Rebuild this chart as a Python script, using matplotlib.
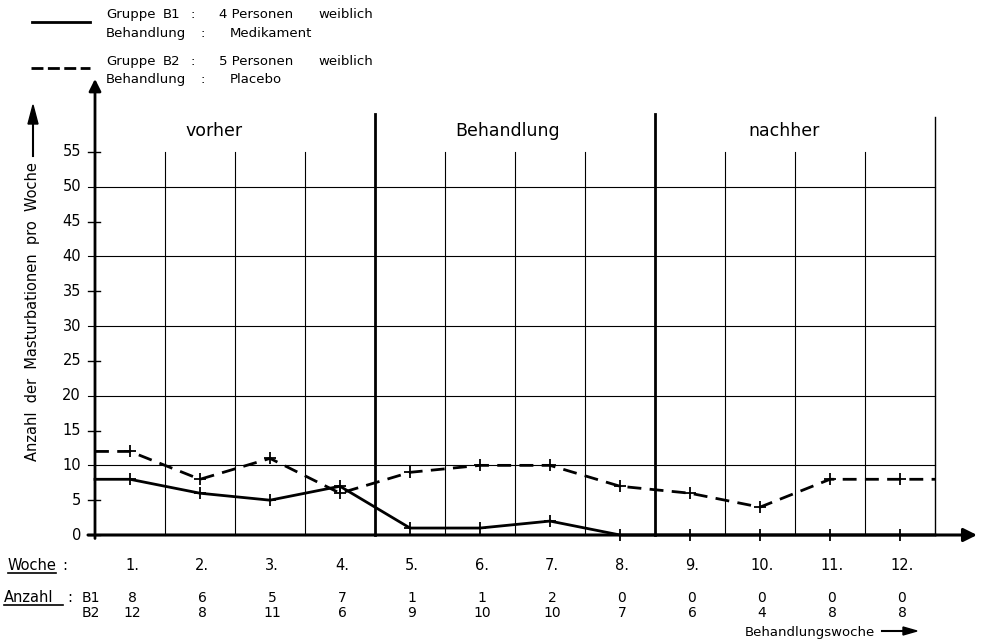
import numpy as np
import matplotlib.pyplot as plt
from matplotlib.lines import Line2D

weeks = ['1.', '2.', '3.', '4.', '5.', '6.', '7.', '8.', '9.', '10.', '11.', '12.']
b1 = [8, 6, 5, 7, 1, 1, 2, 0, 0, 0, 0, 0]
b2 = [12, 8, 11, 6, 9, 10, 10, 7, 6, 4, 8, 8]
phases = ['vorher', 'Behandlung', 'nachher']
yticks = [0, 5, 10, 15, 20, 25, 30, 35, 40, 45, 50, 55]

W, H = 983, 641
fig = plt.figure(figsize=(W / 100, H / 100), dpi=100)
plt.rcParams['font.family'] = ['DejaVu Sans']


def fx(x):
    return x / W


def fy(y):
    return 1 - y / H


def txt(x, y, s, size=10, ha='left'):
    # y is the vertical middle of the capitals, in pixels from the top
    fig.text(fx(x), fy(y + 0.36 * size * 1.39), s, ha=ha, va='baseline', fontsize=size)


# axes: x 0..12 -> px 95..935, y 0..55 -> px 535..152
ax = fig.add_axes([fx(95), fy(535), (935 - 95) / W, (535 - 152) / H])
ax.set_xlim(0, 12)
ax.set_ylim(0, 55)
ax.axis('off')

k = 'black'
n = len(weeks)
xc = np.arange(n) + 0.5

# grid
for g in range(10, 55, 10):
    ax.plot([-0.1, 12], [g, g], color=k, lw=0.8, clip_on=False)
for v in range(1, 12):
    if v in (4, 8):
        ax.plot([v, v], [0, 60.5], color=k, lw=2.0, clip_on=False)
    else:
        ax.plot([v, v], [0, 55], color=k, lw=0.8, clip_on=False)
ax.plot([12, 12], [0, 60], color=k, lw=1.0, clip_on=False)

# y axis with arrow and ticks
ax.annotate('', xy=(0, 65.5), xytext=(0, -0.5), annotation_clip=False,
            arrowprops=dict(arrowstyle='-|>', color=k, lw=2.0,
                            mutation_scale=18, shrinkA=0, shrinkB=0))
for t in yticks:
    if t % 10 != 0 or t == 0:
        ax.plot([-0.1, 0.07], [t, t], color=k, lw=1.0, clip_on=False)
    ax.text(-0.2, t, str(t), ha='right', va='center', fontsize=10.5)

# x axis with arrow
ax.annotate('', xy=(12.6, 0), xytext=(-0.1, 0), annotation_clip=False,
            arrowprops=dict(arrowstyle='-|>', color=k, lw=2.2,
                            mutation_scale=20, shrinkA=0, shrinkB=0))

# series: start at the y axis with week 1 value, end at cell edge
x1 = np.concatenate([[0], xc, [12]])
y1 = np.concatenate([[b1[0]], b1, [b1[-1]]])
y2 = np.concatenate([[b2[0]], b2, [b2[-1]]])
ax.plot(x1, y1, color=k, lw=2.0, clip_on=False, solid_joinstyle='round')
ax.plot(x1, y2, color=k, lw=2.0, dashes=(5, 3), clip_on=False)
ax.plot(xc, b1, ls='none', marker='+', ms=9, mew=1.3, color=k, clip_on=False)
ax.plot(xc, b2, ls='none', marker='+', ms=9, mew=1.3, color=k, clip_on=False)

# phase labels
for p, xp in zip(phases, [1.7, 5.9, 9.85]):
    ax.text(xp, 58, p, ha='center', va='center', fontsize=12.5)

# y label with arrow
fig.text(fx(33), fy(312), 'Anzahl  der  Masturbationen  pro  Woche',
         rotation=90, ha='center', va='center', fontsize=10.5)
fig.add_artist(Line2D([fx(33), fx(33)], [fy(156), fy(122)], color=k, lw=1.5))
fig.patches.append(plt.Polygon([[fx(28), fy(124)], [fx(38), fy(124)], [fx(33), fy(105)]],
                               closed=True, color=k, transform=fig.transFigure))

# bottom table
txt(8, 565, 'Woche', 10.5)
txt(62, 565, ':', 10.5)
fig.add_artist(Line2D([fx(8), fx(56)], [fy(573), fy(573)], color=k, lw=1.2))
txt(4, 597, 'Anzahl', 10.5)
txt(67, 597, ':', 10.5)
fig.add_artist(Line2D([fx(4), fx(63)], [fy(605), fy(605)], color=k, lw=1.2))
txt(82, 597, 'B1')
txt(82, 612, 'B2')
for i in range(n):
    xp = 95 + 70 * xc[i] + 2
    txt(xp, 565, weeks[i], 10.5, 'center')
    txt(xp, 597, str(b1[i]), 10, 'center')
    txt(xp, 612, str(b2[i]), 10, 'center')
txt(875, 631, 'Behandlungswoche', 9.5, 'right')
fig.add_artist(Line2D([fx(882), fx(905)], [fy(631), fy(631)], color=k, lw=1.5))
fig.patches.append(plt.Polygon([[fx(903), fy(627)], [fx(903), fy(635)], [fx(917), fy(631)]],
                               closed=True, color=k, transform=fig.transFigure))

# legend
fig.add_artist(Line2D([fx(32), fx(90)], [fy(22), fy(22)], color=k, lw=2.0))
fig.add_artist(Line2D([fx(31), fx(90)], [fy(68), fy(68)], color=k, lw=2.0, dashes=(4.3, 1.6)))
rows = [(13, 'Gruppe', 'B1', '4 Personen', 'weiblich'),
        (32, 'Behandlung', '', 'Medikament', ''),
        (60, 'Gruppe', 'B2', '5 Personen', 'weiblich'),
        (78, 'Behandlung', '', 'Placebo', '')]
for yy, a, b, c, d in rows:
    txt(106, yy, a, 9.5)
    if b:
        txt(163, yy, b, 9.5)
        txt(190, yy, ':', 9.5)
    else:
        txt(201, yy, ':', 9.5)
    xc_ = 219 if c[0].isdigit() else 230
    txt(xc_, yy, c, 9.5)
    if d:
        txt(318, yy, d, 9.5)

fig.savefig('out.png', dpi=100)
